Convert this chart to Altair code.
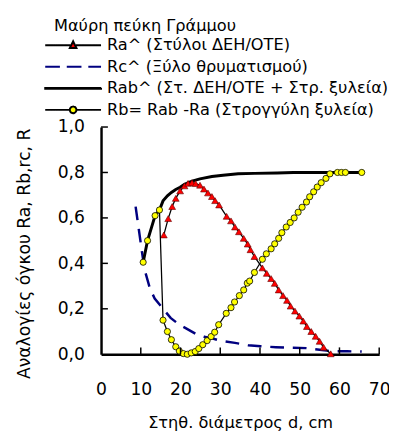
import altair as alt
import pandas as pd

# ---------------- data ----------------
ra_d = [15.8, 16.9, 17.9, 18.8, 19.9, 21.0, 21.9, 22.9, 23.8, 24.9, 25.9, 26.9, 27.9, 28.7,
        29.7, 31.6, 32.7, 33.7, 34.7, 35.9, 36.9, 37.6, 38.6, 40.6, 41.7, 42.8, 43.7, 44.7,
        45.8, 46.8, 47.7, 48.8, 49.9, 50.9, 51.8, 52.9, 54.0, 55.0, 56.0, 57.8]
ra_v = [0.525, 0.597, 0.65, 0.686, 0.719, 0.741, 0.752, 0.755, 0.751, 0.744, 0.727, 0.71, 0.694, 0.676,
        0.657, 0.607, 0.587, 0.56, 0.539, 0.51, 0.485, 0.46, 0.43, 0.38, 0.356, 0.333, 0.312, 0.283,
        0.258, 0.237, 0.212, 0.19, 0.168, 0.146, 0.122, 0.10, 0.079, 0.057, 0.031, 0.002]

rb_d = [10.6, 11.7, 13.6, 14.7, 15.6, 16.7, 17.7, 18.8, 19.7, 20.7, 21.7, 22.7, 23.7, 24.6,
        25.6, 26.7, 27.7, 28.6, 29.6, 31.5, 32.7, 33.6, 34.8, 35.9, 36.8, 37.4, 38.6, 40.6,
        41.6, 42.8, 43.7, 44.7, 45.5, 46.6, 47.6, 48.6, 49.6, 50.6, 51.7, 52.5, 53.5, 54.4,
        55.4, 56.6, 57.6, 59.5, 60.5, 61.5, 65.6]
rb_v = [0.405, 0.50, 0.61, 0.635, 0.15, 0.10, 0.064, 0.033, 0.014, 0.003, 0.0, 0.006, 0.012, 0.025,
        0.042, 0.06, 0.078, 0.097, 0.13, 0.18, 0.205, 0.23, 0.258, 0.283, 0.313, 0.322, 0.36, 0.418,
        0.442, 0.464, 0.486, 0.51, 0.535, 0.56, 0.58, 0.60, 0.625, 0.647, 0.67, 0.693, 0.715, 0.736,
        0.755, 0.774, 0.794, 0.80, 0.80, 0.80, 0.80]

rab_d = [10.6, 11.7, 13.6, 14.7, 15.6, 16.7, 17.7, 18.8, 19.9, 21.0, 22.9, 24.9, 27.9, 30.7,
         34.5, 38.6, 44.3, 48.4, 55.4, 57.6, 59.5, 61.5, 65.6]
rab_v = [0.405, 0.50, 0.61, 0.635, 0.675, 0.697, 0.712, 0.725, 0.735, 0.748, 0.762, 0.772, 0.782, 0.788,
         0.794, 0.796, 0.798, 0.80, 0.80, 0.80, 0.80, 0.80, 0.80]

rc_d = [8.7, 9.5, 10.3, 11.0, 12.3, 13.5, 15.6, 17.5, 19.7, 21.4, 23.8, 26.0, 27.9, 30.0,
        33.7, 37.0, 40.2, 44.0, 47.0, 51.7, 55.0, 58.2, 62.0, 65.6]
rc_v = [0.65, 0.55, 0.45, 0.37, 0.29, 0.245, 0.20, 0.16, 0.13, 0.114, 0.09, 0.077, 0.07, 0.06,
        0.05, 0.04, 0.035, 0.031, 0.029, 0.027, 0.02, 0.013, 0.013, 0.012]

series_names = ["Ra^ (Στύλοι ΔΕΗ/ΟΤΕ)", "Rc^ (Ξύλο θρυματισμού)",
                "Rab^ (Στ. ΔΕΗ/ΟΤΕ + Στρ. ξυλεία)", "Rb= Rab -Ra (Στρογγύλη ξυλεία)"]
legend_title = "Μαύρη πεύκη Γράμμου"
x_title = "Στηθ. διάμετρος d, cm"
y_title = "Αναλογίες όγκου Ra, Rb,rc, R"
x_ticks = [0, 10, 20, 30, 40, 50, 60, 70]
y_ticks = [0.0, 0.2, 0.4, 0.6, 0.8, 1.0]

# ---------------- styling ----------------
FONT = "DejaVu Sans"
W, H = 284, 232

x_scale = alt.Scale(domain=[0, 70], nice=False, zero=False)
y_scale = alt.Scale(domain=[0, 1], nice=False, zero=False)

x_axis = alt.Axis(values=x_ticks, title=x_title, grid=False, ticks=False, tickSize=0,
                  domainColor="black", domainWidth=2.5, labelFontSize=17.5, labelColor="black",
                  labelFont=FONT, labelPadding=27, labelFlush=False, labelOverlap=False,
                  titleFont=FONT, titleFontSize=16.5, titleFontWeight="normal", titleColor="black",
                  titleX=142, titleY=75, titleBaseline="alphabetic", titleAlign="center")
y_axis = alt.Axis(values=y_ticks, title=y_title, grid=False, ticks=False, tickSize=0,
                  labelExpr="replace(format(datum.value, '.1f'), '.', ',')",
                  domainColor="black", domainWidth=2.5, labelFontSize=17.5, labelColor="black",
                  labelFont=FONT, labelPadding=17, labelFlush=False, labelOverlap=False,
                  titleFont=FONT, titleFontSize=17.5, titleFontWeight="normal", titleColor="black",
                  titleX=-78, titleY=129, titleBaseline="middle", titleAlign="center", titleAngle=270)

X = lambda f: alt.X(f, type="quantitative", scale=x_scale, axis=x_axis)
Y = lambda f: alt.Y(f, type="quantitative", scale=y_scale, axis=y_axis)

df_ra = pd.DataFrame({"d": ra_d, "v": ra_v})
df_rb = pd.DataFrame({"d": rb_d, "v": rb_v})
df_rab = pd.DataFrame({"d": rab_d, "v": rab_v})
df_rc = pd.DataFrame({"d": rc_d, "v": rc_v})

rc_line = alt.Chart(df_rc).mark_line(color="#000080", strokeWidth=2.5, strokeDash=[14, 9]).encode(
    x=X("d"), y=Y("v"), order="d:Q")
rab_line = alt.Chart(df_rab).mark_line(color="black", strokeWidth=3).encode(
    x=X("d"), y=Y("v"), order="d:Q")
ra_line = alt.Chart(df_ra).mark_line(color="black", strokeWidth=1.3).encode(
    x=X("d"), y=Y("v"), order="d:Q")
ra_pts = alt.Chart(df_ra).mark_point(shape="triangle-up", filled=True, fill="#ff0000",
                                     stroke="#600000", strokeWidth=0.6, size=48, opacity=1).encode(
    x=X("d"), y=Y("v"))
rb_line = alt.Chart(df_rb).mark_line(color="black", strokeWidth=1.3).encode(
    x=X("d"), y=Y("v"), order="d:Q")
rb_pts = alt.Chart(df_rb).mark_point(shape="circle", filled=True, fill="#ffff00",
                                     stroke="black", strokeWidth=0.8, size=40, opacity=1).encode(
    x=X("d"), y=Y("v"))

# inward tick marks, positioned through the scales
df_xt = pd.DataFrame({"t": x_ticks[1:]})
df_yt = pd.DataFrame({"t": y_ticks[1:]})
x_tick_marks = alt.Chart(df_xt).mark_rule(color="black", strokeWidth=1.5).encode(
    x=X("t"), y=alt.value(H), y2=alt.value(H - 7))
y_tick_marks = alt.Chart(df_yt).mark_rule(color="black", strokeWidth=1.5).encode(
    y=Y("t"), x=alt.value(0), x2=alt.value(7))

# legend (custom symbols: line + marker), symbol unit = sqrt(256)/2 = 8 px
shape_paths = [
    "M-2.25,0H0.95M1.67,0H4.875M1.31,-0.5L1.73,0.35L0.89,0.35Z",
    "M-2.25,0H4.875",
    "M-2.25,-0.06H4.875V0.06H-2.25Z",
    "M-2.25,0H0.89M1.73,0H4.875M1.73,0A0.42,0.42 0 1,1 0.89,0A0.42,0.42 0 1,1 1.73,0Z",
]
fills = ["#ff0000", "transparent", "black", "#ffff00"]
strokes = ["black", "#000080", "black", "black"]
dashes = [[1, 0], [15, 7], [1, 0], [1, 0]]

legend = alt.Legend(title=legend_title, orient="none", legendX=-48, legendY=-111,
                    titleFont=FONT, titleFontSize=16.5, titleFontWeight="normal", titleColor="black",
                    titleLimit=0,
                    labelFont=FONT, labelFontSize=16.5, labelColor="black", labelLimit=0,
                    symbolSize=256, symbolStrokeWidth=2, symbolOpacity=1, labelOffset=36,
                    rowPadding=4, titlePadding=2, padding=0)
df_leg = pd.DataFrame({"s": series_names, "d": [-50] * 4, "v": [0.5] * 4})
leg_layer = alt.Chart(df_leg).mark_point(clip=True, opacity=1).encode(
    x=X("d"), y=Y("v"),
    shape=alt.Shape("s:N", scale=alt.Scale(domain=series_names, range=shape_paths), legend=legend),
    fill=alt.Fill("s:N", scale=alt.Scale(domain=series_names, range=fills), legend=legend),
    stroke=alt.Stroke("s:N", scale=alt.Scale(domain=series_names, range=strokes), legend=legend),
    strokeDash=alt.StrokeDash("s:N", scale=alt.Scale(domain=series_names, range=dashes), legend=legend),
)

chart = alt.layer(rc_line, rab_line, ra_line, ra_pts, rb_line, rb_pts,
                  x_tick_marks, y_tick_marks, leg_layer).properties(
    width=W, height=H,
    autosize=alt.AutoSizeParams(type="none"),
    padding={"left": 95, "top": 117, "right": 10, "bottom": 82},
    background="white",
).configure_view(stroke=None)

chart.save("out.html", embed_options={"renderer": "svg", "actions": False})
